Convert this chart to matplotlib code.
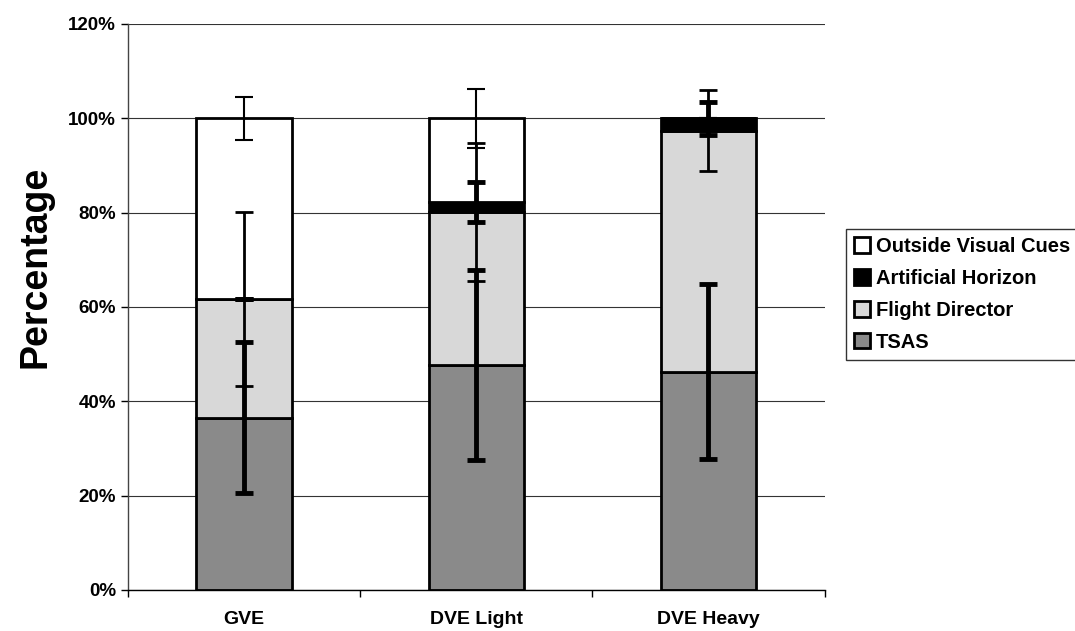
import numpy as np
import matplotlib
matplotlib.use('Agg')
import matplotlib.pyplot as plt
from matplotlib.ticker import FuncFormatter

matplotlib.rcParams['font.family'] = ['Liberation Sans', 'DejaVu Sans']

# Data (percent)
categories = ['GVE', 'DVE Light', 'DVE Heavy']
tsas = [36.5, 47.7, 46.3]
flight_director = [25.2, 32.5, 51.1]
artificial_horizon = [0.0, 2.1, 2.6]
outside_visual = [38.3, 17.7, 0.0]

tsas_err = [16.0, 20.2, 18.5]
fd_err = [18.5, 14.6, 8.5]
ah_err = [0.0, 4.3, 3.5]
ovc_err = [4.5, 6.2, 0.0]

fig = plt.figure(figsize=(10.75, 6.31), dpi=100)
ax = fig.add_axes([0.119, 0.065, 0.648, 0.897])

x = np.arange(len(categories))
width = 0.41

series = [
    ('TSAS', tsas, tsas_err, '#8a8a8a', 3.5),
    ('Flight Director', flight_director, fd_err, '#d8d8d8', 2.0),
    ('Artificial Horizon', artificial_horizon, ah_err, '#000000', 3.5),
    ('Outside Visual Cues', outside_visual, ovc_err, '#ffffff', 1.5),
]

bottom = np.zeros(len(categories))
handles = []
for name, vals, errs, color, elw in series:
    vals = np.array(vals)
    b = ax.bar(x, vals, width, bottom=bottom, color=color, edgecolor='black',
               linewidth=2, label=name, zorder=2)
    handles.append(b)
    tops = bottom + vals
    ax.errorbar(x, tops, yerr=errs, fmt='none', ecolor='black', elinewidth=elw,
                capsize=6.5, capthick=elw, zorder=3)
    bottom = tops

ax.set_xlim(-0.5, 2.5)
ax.set_ylim(0, 120)
ax.set_yticks(np.arange(0, 121, 20))
ax.yaxis.set_major_formatter(FuncFormatter(lambda v, p: f'{v:.0f}%'))
ax.yaxis.grid(True, color='#333333', linewidth=0.8, zorder=0)
ax.set_axisbelow(True)

ax.set_xticks(x)
ax.set_xticklabels(categories, fontsize=14, fontweight='bold')
ax.set_xticks(np.arange(-0.5, 2.6, 1), minor=True)
ax.tick_params(axis='x', which='major', length=0, pad=15)
ax.tick_params(axis='x', which='minor', length=5, direction='out', width=1)
ax.tick_params(axis='y', labelsize=13.5, length=5, direction='out', width=1)
for lab in ax.get_yticklabels():
    lab.set_fontweight('bold')

for s in ['top', 'right']:
    ax.spines[s].set_visible(False)
ax.spines['left'].set_linewidth(1)
ax.spines['left'].set_color('#444444')
ax.spines['bottom'].set_linewidth(1)

ax.set_ylabel('Percentage', fontsize=27, fontweight='bold')
ax.yaxis.set_label_coords(-0.107, 0.57)

leg = fig.legend(handles[::-1], [s[0] for s in series][::-1],
                 loc='upper left', bbox_to_anchor=(0.787, 0.637),
                 prop={'size': 14.5, 'weight': 'bold'}, frameon=True,
                 fancybox=False, edgecolor='black', handlelength=0.8,
                 handleheight=0.8, handletextpad=0.3, labelspacing=0.64,
                 borderpad=0.4, borderaxespad=0)
leg.get_frame().set_linewidth(1)

fig.savefig('out.png', dpi=100)
